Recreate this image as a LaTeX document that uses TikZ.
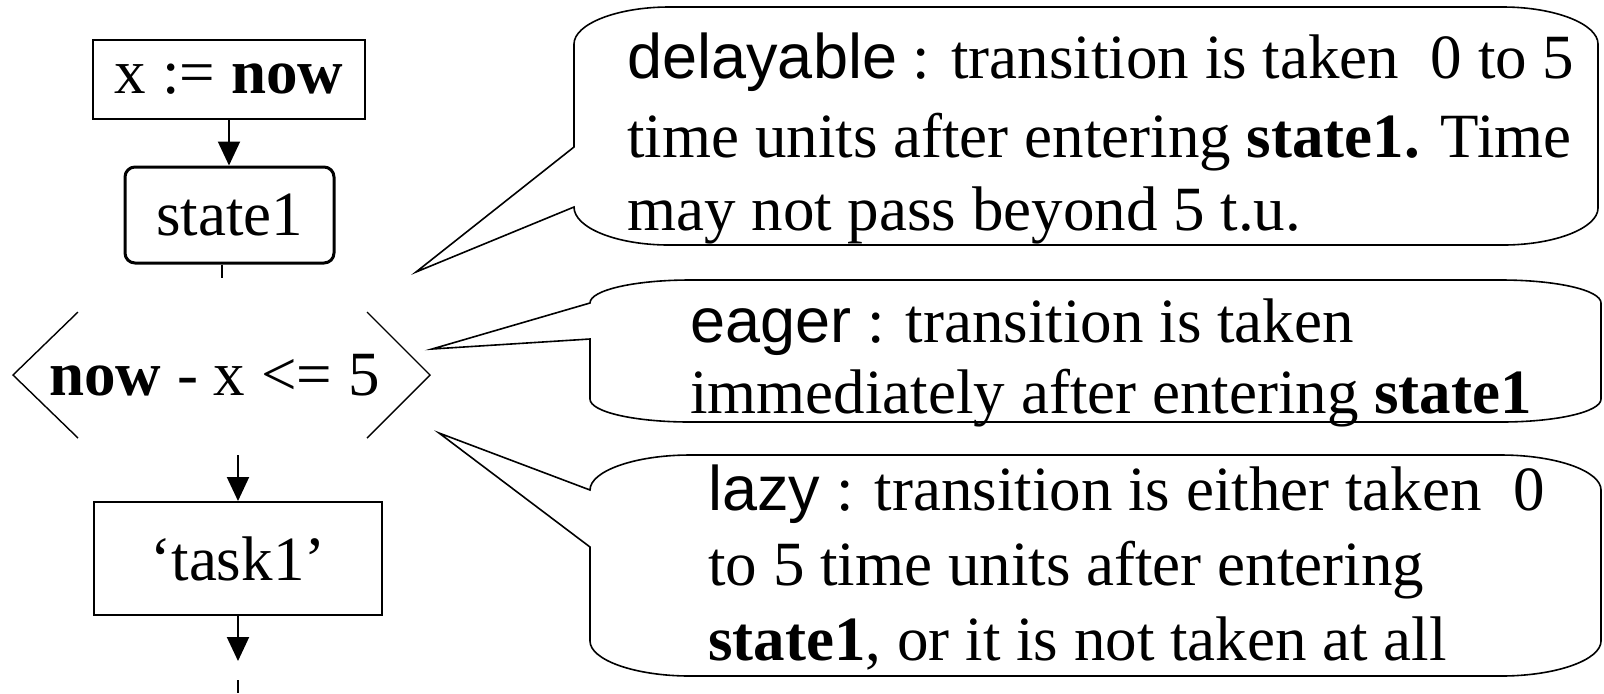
\documentclass[tikz,border=0pt]{standalone}
\usepackage{fontspec}
\setmainfont{Liberation Serif}
\newfontfamily\arialf{Liberation Sans}
\usetikzlibrary{arrows.meta}

\tikzset{
  box/.style={draw,line width=1pt,inner sep=0pt},
  txt/.style={font=\fontsize{31.5}{38}\selectfont,inner sep=0pt},
  textline/.style={anchor=base west,inner sep=0pt,font=\fontsize{31.5}{38}\selectfont},
  flow/.style={line width=1pt,-{Triangle[width=11pt,length=12pt]}},
  bubble/.style={line width=0.8pt,line join=miter},
}

\begin{document}
\begin{tikzpicture}[x=0.5pt,y=-0.5pt]
\useasboundingbox (0,0) rectangle (1604,693);
% flow chart
\node[box,txt,minimum width=136pt,minimum height=39.5pt] (init) at (229,79.5) {x := \textbf{now}};
\node[box,txt,line width=1.5pt,rounded corners=5pt,minimum width=104.5pt,minimum height=48pt] (state1) at (229.5,215) {state1};
\node[txt] (guard) at (214.5,375) {\textbf{now} - x <= 5};
\node[box,txt,minimum width=144pt,minimum height=56.5pt] (task1) at (238,558.5) {‘task1’};
\draw[line width=0.7pt] (78,312) -- (13,375) -- (78,438);
\draw[line width=0.7pt] (367,312) -- (430,375) -- (367,438);
\coordinate (s1out) at (222,278);
\coordinate (gout) at (238,455);
\coordinate (t1out) at (238,661);
\coordinate (nxt) at (238,680);
\draw[flow] (init.south) -- (init.south |- state1.north);
\draw[line width=1pt] (s1out |- state1.south) -- (s1out);
\draw[flow] (gout) -- (task1.north);
\draw[flow] (task1.south) -- (t1out);
\draw[line width=1pt] (nxt) -- ++(0,13);
% callouts
\coordinate (tipD) at (416,272);
\coordinate (tipE) at (432,349);
\coordinate (tipL) at (439,433);
\draw[bubble] (574,147) -- (574,44) .. controls (574,24) and (617,7) .. (669,7) -- (1503,7)
  .. controls (1555,7) and (1598,24) .. (1598,44) -- (1598,208)
  .. controls (1598,228) and (1555,245) .. (1503,245) -- (669,245)
  .. controls (617,245) and (574,228) .. (574,207) -- (tipD) -- cycle;
\draw[bubble] (590,339) -- (590,399) .. controls (590,412) and (635,422) .. (690,422) -- (1501,422)
  .. controls (1556,422) and (1601,412) .. (1601,399) -- (1601,303)
  .. controls (1601,290) and (1556,280) .. (1501,280) -- (690,280)
  .. controls (635,280) and (590,290) .. (590,303) -- (tipE) -- cycle;
\draw[bubble] (590,547) -- (590,641) .. controls (590,660) and (635,676) .. (690,676) -- (1501,676)
  .. controls (1556,676) and (1601,660) .. (1601,641) -- (1601,490)
  .. controls (1601,471) and (1556,455) .. (1501,455) -- (690,455)
  .. controls (635,455) and (590,471) .. (590,490) -- (tipL) -- cycle;
\node[textline] (del1) at (627,78) {{\arialf delayable} : transition is taken~ 0 to 5};
\node[textline] (del2) at (627,157) {time units after entering \textbf{state1.} Time};
\node[textline] (del3) at (627,230) {may not pass beyond 5 t.u.};
\node[textline] (eag1) at (690,342) {{\arialf eager} : transition is taken};
\node[textline] (eag2) at (690,413) {immediately after entering \textbf{state1}};
\node[textline] (laz1) at (708,510) {{\arialf lazy} : transition is either taken~ 0};
\node[textline] (laz2) at (708,585) {to 5 time units after entering};
\node[textline] (laz3) at (708,660) {\textbf{state1}, or it is not taken at all};
\end{tikzpicture}
\end{document}
